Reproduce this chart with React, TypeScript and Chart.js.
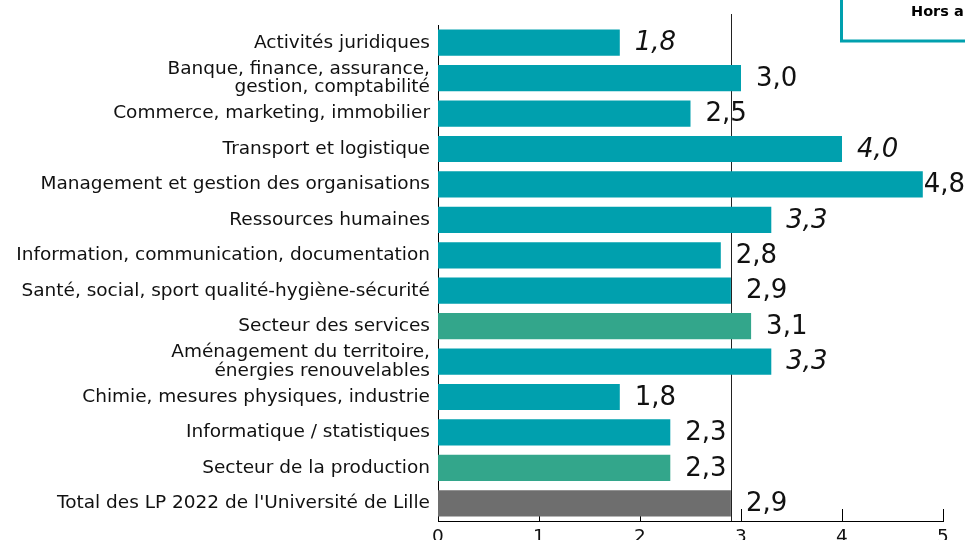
import React, { useEffect, useRef } from "react";
import { Chart, registerables } from "chart.js";

Chart.register(...registerables);

const categories: (string | string[])[] = [
  "Activités juridiques",
  ["Banque, finance, assurance,", "gestion, comptabilité"],
  "Commerce, marketing, immobilier",
  "Transport et logistique",
  "Management et gestion des organisations",
  "Ressources humaines",
  "Information, communication, documentation",
  "Santé, social, sport qualité-hygiène-sécurité",
  "Secteur des services",
  ["Aménagement du territoire,", "énergies renouvelables"],
  "Chimie, mesures physiques, industrie",
  "Informatique / statistiques",
  "Secteur de la production",
  "Total des LP 2022 de l'Université de Lille",
];

const values = [1.8, 3.0, 2.5, 4.0, 4.8, 3.3, 2.8, 2.9, 3.1, 3.3, 1.8, 2.3, 2.3, 2.9];
const italicFlags = [true, false, false, true, false, true, false, false, false, true, false, false, false, false];
const kinds = ["d", "d", "d", "d", "d", "d", "d", "d", "s", "d", "d", "d", "s", "t"];
const xTicks = [0, 1, 2, 3, 4, 5];
const referenceValue = 2.9;
const boxText = "Hors alternance";

const TEAL = "#00A0AE";
const GREEN = "#33A68B";
const GRAY = "#6E6E6E";
const FONT = "'DejaVu Sans', Verdana, sans-serif";

const colorFor = (k: string) => (k === "s" ? GREEN : k === "t" ? GRAY : TEAL);

export default function App() {
  const ref = useRef<HTMLCanvasElement | null>(null);

  useEffect(() => {
    document.body.style.margin = "0";
    const canvas = ref.current;
    if (!canvas) return;

    const decorPlugin = {
      id: "decor",
      beforeDatasetsDraw(chart: any) {
        const { ctx, chartArea, scales } = chart;
        const x = scales.x;
        ctx.save();
        ctx.strokeStyle = "#000";
        ctx.lineWidth = 1;
        xTicks.forEach((v) => {
          const px = Math.round(x.getPixelForValue(v)) + 0.5;
          ctx.beginPath();
          ctx.moveTo(px, chartArea.bottom);
          ctx.lineTo(px, chartArea.bottom - 12);
          ctx.stroke();
        });
        const rx = Math.round(x.getPixelForValue(referenceValue)) + 0.5;
        ctx.strokeStyle = "#222";
        ctx.beginPath();
        ctx.moveTo(rx, 14);
        ctx.lineTo(rx, chartArea.bottom);
        ctx.stroke();
        ctx.restore();
      },
      afterDatasetsDraw(chart: any) {
        const { ctx, scales } = chart;
        const x = scales.x;
        const y = scales.y;
        ctx.save();
        ctx.fillStyle = "#111";
        ctx.textBaseline = "middle";
        ctx.textAlign = "left";
        values.forEach((v, i) => {
          const txt = v.toFixed(1).replace(".", ",");
          ctx.font = `${italicFlags[i] ? "italic " : ""}26px ${FONT}`;
          const w = ctx.measureText(txt).width;
          let px = x.getPixelForValue(v) + 15;
          if (px + w > chart.width) px = chart.width - w;
          const py = y.getPixelForValue(i) + 1;
          ctx.fillText(txt, px, py);
        });
        ctx.strokeStyle = TEAL;
        ctx.lineWidth = 3;
        ctx.strokeRect(841.5, -10, 200, 51);
        ctx.fillStyle = "#000";
        ctx.font = `bold 14.5px ${FONT}`;
        ctx.textBaseline = "middle";
        ctx.fillText(boxText, 911, 12);
        ctx.restore();
      },
    };

    const chart = new Chart(canvas, {
      type: "bar",
      data: {
        labels: categories,
        datasets: [
          {
            data: values,
            backgroundColor: kinds.map(colorFor),
            barPercentage: 0.74,
            categoryPercentage: 1,
          },
        ],
      },
      options: {
        indexAxis: "y",
        animation: false,
        responsive: false,
        maintainAspectRatio: false,
        layout: { padding: { top: 25, right: 22, left: 0, bottom: 0 } },
        plugins: { legend: { display: false }, tooltip: { enabled: false } },
        scales: {
          x: {
            min: 0,
            max: 5,
            afterFit(scale: any) {
              scale.height = 39;
            },
            afterBuildTicks(scale: any) {
              scale.ticks = xTicks.map((v) => ({ value: v }));
            },
            grid: { display: false, drawTicks: false },
            border: { display: true, color: "#000", width: 1 },
            ticks: {
              color: "#111",
              padding: 5,
              font: { family: FONT, size: 18.5 },
            },
          },
          y: {
            afterFit(scale: any) {
              scale.width = 438;
            },
            grid: { display: false, drawTicks: false },
            border: { display: true, color: "#000", width: 1 },
            ticks: {
              color: "#111",
              padding: 8,
              autoSkip: false,
              font: { family: FONT, size: 18.5, lineHeight: 1.02 },
            },
          },
        },
      },
      plugins: [decorPlugin],
    });

    return () => chart.destroy();
  }, []);

  return (
    <div style={{ position: "fixed", left: 0, top: 0, width: 965, height: 540, overflow: "hidden", background: "#fff" }}>
      <canvas ref={ref} width={965} height={560} style={{ display: "block", width: 965, height: 560 }} />
    </div>
  );
}
